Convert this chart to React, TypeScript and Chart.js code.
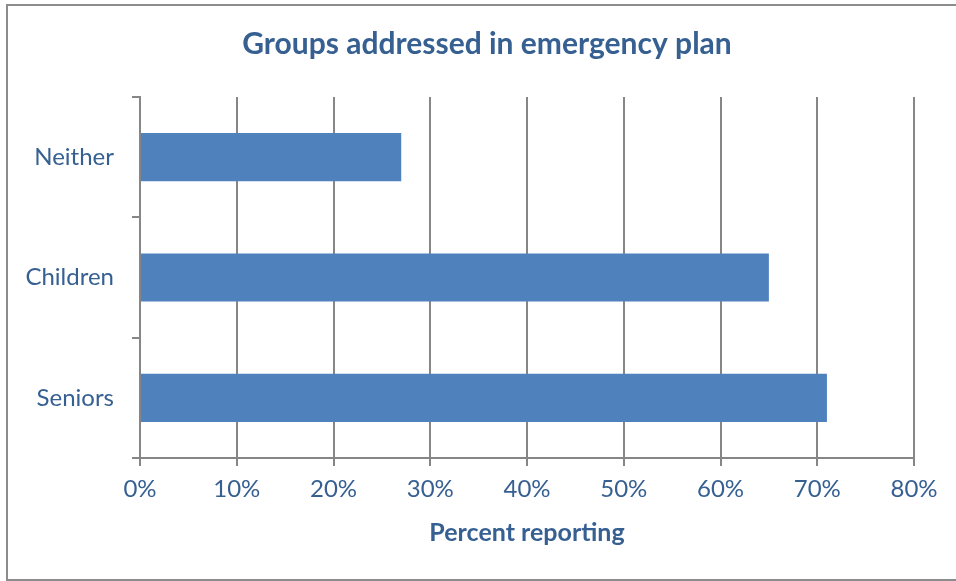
import React, { useEffect, useRef } from "react";
import { Chart, registerables } from "chart.js";

Chart.register(...registerables);

const categories = ["Neither", "Children", "Seniors"];
const percentReporting = [27, 65, 71];
const xTicks = [0, 10, 20, 30, 40, 50, 60, 70, 80];
const chartTitle = "Groups addressed in emergency plan";
const xAxisTitle = "Percent reporting";

const TEXT = "#376092";
const GRID = "#868686";
const FONT = "Lato";

export default function App() {
  const ref = useRef<HTMLCanvasElement | null>(null);

  useEffect(() => {
    if (!ref.current) return;
    const chart = new Chart(ref.current, {
      type: "bar",
      data: {
        labels: categories,
        datasets: [
          {
            label: xAxisTitle,
            data: percentReporting,
            backgroundColor: "#4F81BD",
            borderWidth: 0,
            barPercentage: 0.4,
            categoryPercentage: 1,
          },
        ],
      },
      options: {
        indexAxis: "y",
        animation: false,
        responsive: false,
        maintainAspectRatio: false,
        layout: { padding: 0 },
        plugins: {
          legend: { display: false },
          tooltip: { enabled: false },
          title: {
            display: true,
            text: chartTitle,
            color: TEXT,
            font: { family: FONT, size: 30, weight: "bold" },
            padding: { top: 26, bottom: 35 },
          },
        },
        scales: {
          x: {
            min: 0,
            max: 80,
            afterBuildTicks: (s: any) => {
              s.ticks = xTicks.map((v) => ({ value: v }));
            },
            afterFit: (s: any) => {
              s.height = 123;
            },
            grid: {
              color: GRID,
              lineWidth: 2,
              tickLength: 8,
              drawTicks: true,
            },
            border: { color: GRID, width: 2 },
            ticks: {
              color: TEXT,
              font: { family: FONT, size: 24 },
              padding: 9,
              callback: (v: any) => v + "%",
            },
            title: {
              display: true,
              text: xAxisTitle,
              color: TEXT,
              font: { family: FONT, size: 25, weight: "bold" },
              padding: { top: 0, bottom: 33 },
            },
          },
          y: {
            afterFit: (s: any) => {
              s.width = 140;
            },
            grid: {
              drawOnChartArea: false,
              color: GRID,
              lineWidth: 2,
              tickLength: 8,
              offset: true,
            },
            border: { color: GRID, width: 2 },
            ticks: {
              color: TEXT,
              font: { family: FONT, size: 24 },
              padding: 18,
            },
          },
          spacer: {
            type: "category",
            position: "right",
            display: true,
            afterFit: (s: any) => {
              s.width = 60;
            },
            grid: { display: false },
            border: { display: false },
            ticks: { display: false },
          },
        },
      },
    });
    return () => chart.destroy();
  }, []);

  return (
    <div
      style={{
        position: "fixed",
        left: 0,
        top: 0,
        width: 956,
        height: 581,
        overflow: "hidden",
        background: "#ffffff",
      }}
    >
      <div
        style={{
          position: "absolute",
          left: 6,
          top: 4,
          width: 1000,
          height: 577,
          border: "2px solid #8c8c8c",
          boxSizing: "border-box",
        }}
      />
      <canvas
        ref={ref}
        width={974}
        height={581}
        style={{ position: "absolute", left: 0, top: 0, width: 974, height: 581 }}
      />
    </div>
  );
}
